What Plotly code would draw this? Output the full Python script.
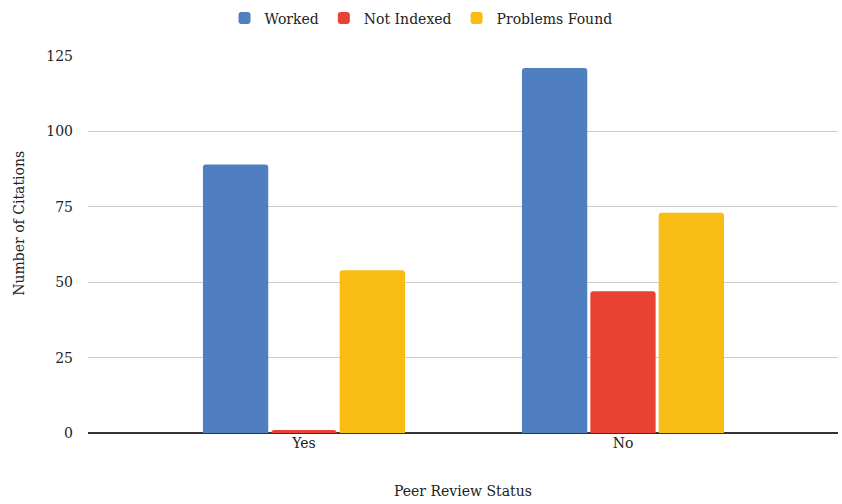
import plotly.graph_objects as go

# Citation check results grouped by peer review status
categories = ["Yes", "No"]
worked = [89, 121]
not_indexed = [1, 47]
problems_found = [54, 73]

series_names = ["Worked", "Not Indexed", "Problems Found"]
series_values = [worked, not_indexed, problems_found]
series_colors = ["#4f7ec1", "#e94235", "#f9bc15"]

y_ticks = [0, 25, 50, 75, 100, 125]

FONT = "'DejaVu Serif'"
TXT = "#222222"
SIZE = 14

fig = go.Figure()
for name, vals, col in zip(series_names, series_values, series_colors):
    fig.add_trace(go.Bar(
        x=categories, y=vals, name=name,
        marker=dict(color=col, line=dict(width=0)),
    ))

fig.update_layout(
    width=842, height=504,
    margin=dict(l=88, r=4, t=56, b=71),
    paper_bgcolor="white", plot_bgcolor="white",
    barmode="group", bargap=0.357, bargroupgap=0.045,
    barcornerradius=3,
    font=dict(family=FONT, size=SIZE, color=TXT),
    showlegend=True,
    legend=dict(
        orientation="h", xref="container", yref="container",
        x=0.5, xanchor="center", y=0.995, yanchor="top",
        font=dict(family=FONT, size=SIZE, color=TXT),
        traceorder="normal",
    ),
    xaxis=dict(
        range=[-0.677, 1.674],
        showgrid=False, zeroline=False,
        showline=False, ticks="",
        tickfont=dict(family=FONT, size=SIZE, color=TXT),
    ),
    yaxis=dict(
        range=[0, 125], tickvals=y_ticks,
        showgrid=True, gridcolor="#cccccc", gridwidth=1,
        zeroline=True, zerolinecolor="#333333", zerolinewidth=1.5,
        showline=False, ticks="",
        ticklabelstandoff=14,
        tickfont=dict(family=FONT, size=SIZE, color=TXT),
    ),
    annotations=[
        dict(text="Peer Review Status", xref="paper", yref="paper",
             x=0.5, y=-0.128, xanchor="center", yanchor="top",
             showarrow=False, font=dict(family=FONT, size=SIZE, color=TXT)),
        dict(text="Number of Citations", xref="paper", yref="paper",
             x=-0.1, y=0.555, xanchor="center", yanchor="middle",
             textangle=-90, xshift=6,
             showarrow=False, font=dict(family=FONT, size=SIZE, color=TXT)),
    ],
)

fig.write_html("out.html")
